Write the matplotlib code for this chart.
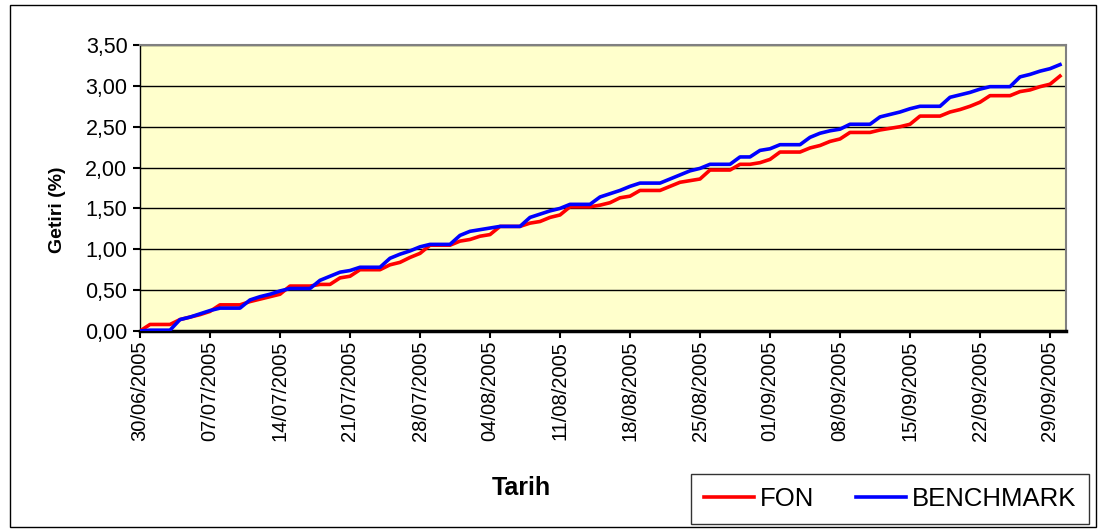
import numpy as np
import pandas as pd
import matplotlib
matplotlib.use('Agg')
import matplotlib.pyplot as plt
from matplotlib.patches import Rectangle

plt.rcParams['font.family'] = ['Liberation Sans', 'DejaVu Sans']

# daily cumulative returns (%), 30/06/2005 - 30/09/2005
fon = [0.00, 0.08, 0.08, 0.08,
       0.14, 0.17, 0.20, 0.24, 0.32, 0.32, 0.32,
       0.36, 0.39, 0.42, 0.45, 0.55, 0.55, 0.55,
       0.57, 0.57, 0.65, 0.67, 0.75, 0.75, 0.75,
       0.81, 0.84, 0.90, 0.95, 1.05, 1.05, 1.05,
       1.10, 1.12, 1.16, 1.18, 1.28, 1.28, 1.28,
       1.32, 1.34, 1.39, 1.42, 1.52, 1.52, 1.52,
       1.54, 1.57, 1.63, 1.65, 1.72, 1.72, 1.72,
       1.77, 1.82, 1.84, 1.86, 1.97, 1.97, 1.97,
       2.04, 2.04, 2.06, 2.10, 2.19, 2.19, 2.19,
       2.24, 2.27, 2.32, 2.35, 2.43, 2.43, 2.43,
       2.46, 2.48, 2.50, 2.53, 2.63, 2.63, 2.63,
       2.68, 2.71, 2.75, 2.80, 2.88, 2.88, 2.88,
       2.93, 2.95, 2.99, 3.02, 3.12]

benchmark = [0.00, 0.01, 0.01, 0.01,
             0.14, 0.17, 0.21, 0.25, 0.28, 0.28, 0.28,
             0.38, 0.42, 0.45, 0.49, 0.52, 0.52, 0.52,
             0.62, 0.67, 0.72, 0.74, 0.78, 0.78, 0.78,
             0.89, 0.94, 0.98, 1.03, 1.06, 1.06, 1.06,
             1.17, 1.22, 1.24, 1.26, 1.28, 1.28, 1.28,
             1.39, 1.43, 1.47, 1.50, 1.55, 1.55, 1.55,
             1.64, 1.68, 1.72, 1.77, 1.81, 1.81, 1.81,
             1.86, 1.91, 1.96, 1.99, 2.04, 2.04, 2.04,
             2.13, 2.13, 2.21, 2.23, 2.28, 2.28, 2.28,
             2.37, 2.42, 2.45, 2.47, 2.53, 2.53, 2.53,
             2.62, 2.65, 2.68, 2.72, 2.75, 2.75, 2.75,
             2.86, 2.89, 2.92, 2.96, 2.99, 2.99, 2.99,
             3.11, 3.14, 3.18, 3.21, 3.26]

dates = pd.date_range('2005-06-30', periods=len(fon), freq='D')
yticks = [0.0, 0.5, 1.0, 1.5, 2.0, 2.5, 3.0, 3.5]

W, H = 1101, 529
fig = plt.figure(figsize=(W / 100, H / 100), dpi=100)
ax = fig.add_axes([140 / W, 1 - 331 / H, (1066 - 140) / W, (331 - 45) / H])

x = np.arange(len(fon))
ax.plot(x, fon, color='#FF0000', lw=2.6, label='FON', zorder=3)
ax.plot(x, benchmark, color='#0000FF', lw=2.6, label='BENCHMARK', zorder=4)

ax.set_facecolor('#FFFFCC')
ax.set_ylim(0, 3.5)
ax.set_yticks(yticks)
ax.set_yticklabels([f'{v:.2f}'.replace('.', ',') for v in yticks], fontsize=15.5)
ax.grid(axis='y', color='black', lw=1)
ax.set_axisbelow(True)

ax.set_xlim(0, 92.6)
ax.set_xticks(x[::7])
ax.set_xticklabels([d.strftime('%d/%m/%Y') for d in dates[::7]],
                   rotation=90, fontsize=14.5)

for side in ['top', 'right']:
    ax.spines[side].set_color('#808080')
    ax.spines[side].set_linewidth(1.5)
ax.spines['left'].set_linewidth(1)
ax.spines['bottom'].set_linewidth(2.5)
ax.tick_params(direction='out', length=5, width=1.5, colors='black')
ax.tick_params(axis='x', pad=2)
ax.tick_params(axis='y', pad=4)

fig.text(58 / W, 1 - 210 / H, 'Getiri (%)', rotation=90, fontsize=14,
         fontweight='bold', ha='center', va='center')
fig.text(521 / W, 1 - 488 / H, 'Tarih', fontsize=18, fontweight='bold',
         ha='center', va='center')

leg = fig.legend(loc='center', ncol=2, fontsize=18.5, frameon=True,
                 fancybox=False, edgecolor='black', handlelength=1.95,
                 columnspacing=1.6, handletextpad=0.25, borderpad=0.5,
                 bbox_to_anchor=(683 / W, 1 - 524 / H, 414 / W, 50 / H))
leg.get_frame().set_linewidth(1)

fig.patches.append(Rectangle((10 / W, 2 / H), (1096 - 10) / W, (524 - 2) / H,
                             transform=fig.transFigure, fill=False,
                             ec='black', lw=1))

fig.savefig('out.png', dpi=100)
